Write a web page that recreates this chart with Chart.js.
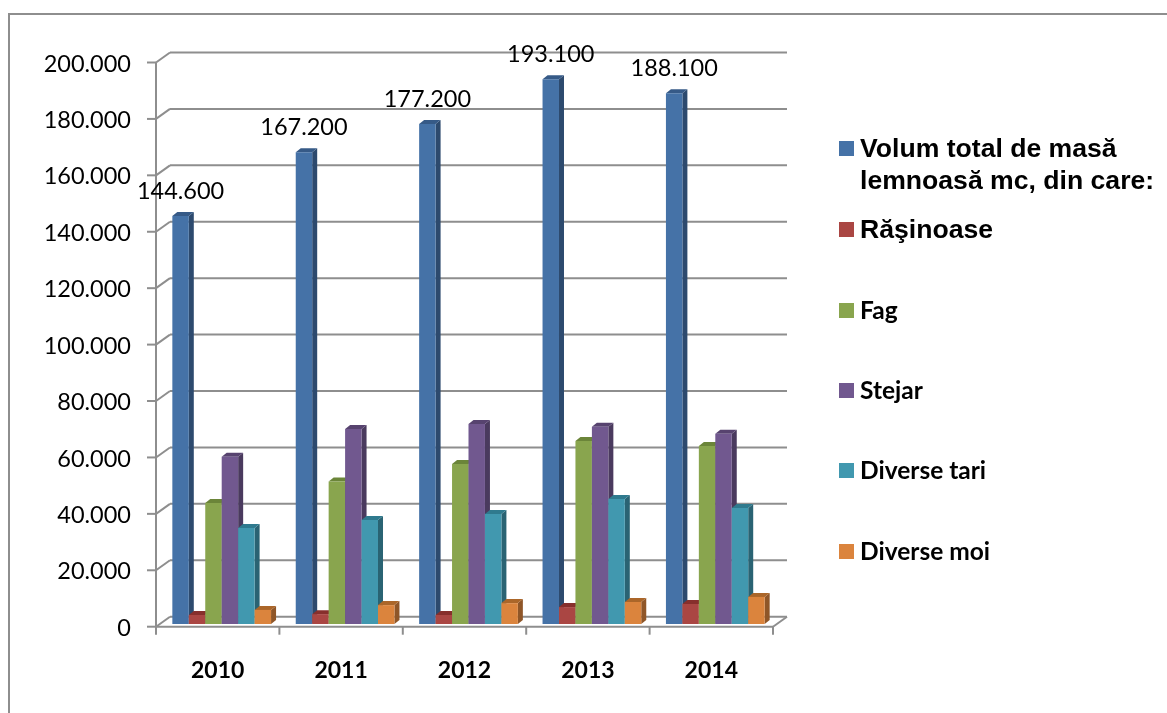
<!DOCTYPE html>
<html>
<head>
<meta charset="utf-8">
<title>Volum masă lemnoasă</title>
<script src="https://cdn.jsdelivr.net/npm/chart.js@4"></script>
<style>
  html, body { margin: 0; padding: 0; background: #fff; overflow: hidden; }
  #wrap { position: relative; width: 1167px; height: 713px; }
  #frame { position: absolute; left: 8px; top: 13px; right: 0; bottom: 0;
           border-left: 2px solid #8e8e8e; border-top: 2px solid #8e8e8e; }
  canvas { position: absolute; left: 0; top: 0; }
  .leg { position: absolute; left: 839px; color: #000; }
  .leg i { position: absolute; left: 0; top: 0; width: 15px; height: 15px; }
  .leg span { position: absolute; left: 21px; white-space: normal; width: 305px; }
  .arial { font: bold 26.6px/32px "Liberation Sans", sans-serif; }
  .lato { font: bold 24.5px/30px Lato, sans-serif; }
</style>
</head>
<body>
<div id="wrap">
  <div id="frame"></div>
  <canvas id="woodChart" width="1167" height="713"></canvas>
  <div id="legend"></div>
</div>
<script>
const years = ['2010', '2011', '2012', '2013', '2014'];
const seriesNames = ['Volum total de masă lemnoasă mc, din care:', 'Răşinoase', 'Fag', 'Stejar', 'Diverse tari', 'Diverse moi'];

const volumTotal = [144600, 167200, 177200, 193100, 188100];
const rasinoase = [3200, 3500, 3200, 6000, 7100];
const fag = [42900, 50500, 56700, 64900, 63100];
const stejar = [59300, 69100, 70900, 69900, 67400];
const diverseTari = [34000, 36900, 39000, 44300, 41100];
const diverseMoi = [5000, 6700, 7400, 7800, 9600];

const yTicks = [0, 20000, 40000, 60000, 80000, 100000, 120000, 140000, 160000, 180000, 200000];

const frontColors = ['#4572A7', '#AA4643', '#89A54E', '#71588F', '#4198AF', '#DB843D'];
const sideColors = ['#2d4a6e', '#6f2e2c', '#5a6c33', '#4a3a5e', '#2a6373', '#8f5628'];
const topColors = ['#365a87', '#872f2c', '#6b8539', '#57436f', '#2f7a8e', '#ab6629'];

// where the 3d look sits: bars stand a bit behind the front axes
const barShift = { x: 4, y: -2.7 };
const barDepth = { x: 5, y: -4 };
const wallDepth = { x: 14, y: -10 };
const axisColor = '#8e8e8e';

function dotted(v) {
  return String(v).replace(/\B(?=(\d{3})+$)/g, '.');
}

function line(ctx, x1, y1, x2, y2) {
  ctx.beginPath();
  ctx.moveTo(x1, y1);
  ctx.lineTo(x2, y2);
  ctx.stroke();
}

function poly(ctx, pts, color) {
  ctx.fillStyle = color;
  ctx.beginPath();
  pts.forEach((p, i) => i ? ctx.lineTo(p[0], p[1]) : ctx.moveTo(p[0], p[1]));
  ctx.closePath();
  ctx.fill();
}

// Back wall, floor and front axes, from the chart's own scales
const wallPlugin = {
  id: 'wall',
  beforeDatasetsDraw(chart) {
    const { ctx, scales, chartArea } = chart;
    const { left, right, bottom, top } = chartArea;
    const step = (right - left) / years.length;
    ctx.save();
    ctx.strokeStyle = axisColor;
    ctx.lineWidth = 2;
    yTicks.forEach(v => {
      const y = scales.y.getPixelForValue(v);
      line(ctx, left - 9, y, left, y);
      line(ctx, left, y, left + wallDepth.x, y + wallDepth.y);
      line(ctx, left + wallDepth.x, y + wallDepth.y, right + wallDepth.x, y + wallDepth.y);
    });
    line(ctx, right, bottom, right + wallDepth.x, bottom + wallDepth.y);
    line(ctx, left, top, left, bottom + 1);
    line(ctx, left, bottom, right, bottom);
    for (let i = 0; i <= years.length; i++) {
      const x = left + i * step;
      line(ctx, x, bottom, x, bottom + 8);
    }
    ctx.restore();
  },
  // the library paints the last series first, here the bars must go left to right
  beforeDatasetDraw() {
    return false;
  },
  afterDatasetsDraw(chart) {
    const { ctx } = chart;
    ctx.save();
    ctx.translate(barShift.x, barShift.y);
    seriesValues.forEach((values, i) => {
      chart.getDatasetMeta(i).data.forEach(bar => {
        const l = bar.x - bar.width / 2;
        const r = bar.x + bar.width / 2;
        const d = barDepth;
        poly(ctx, [[r, bar.y], [r + d.x, bar.y + d.y], [r + d.x, bar.base + d.y], [r, bar.base]], sideColors[i]);
        poly(ctx, [[l, bar.y], [l + d.x, bar.y + d.y], [r + d.x, bar.y + d.y], [r, bar.y]], topColors[i]);
        bar.draw(ctx);
      });
    });
    // value labels only on the total series
    ctx.fillStyle = '#000';
    ctx.font = '23.5px Lato, sans-serif';
    ctx.textAlign = 'center';
    ctx.textBaseline = 'middle';
    chart.getDatasetMeta(0).data.forEach((bar, i) => {
      ctx.fillText(dotted(volumTotal[i]), bar.x, bar.y - 25);
    });
    ctx.restore();
  }
};

const seriesValues = [volumTotal, rasinoase, fag, stejar, diverseTari, diverseMoi];

new Chart(document.getElementById('woodChart'), {
  type: 'bar',
  data: {
    labels: years,
    datasets: seriesValues.map((values, i) => ({
      label: seriesNames[i],
      data: values,
      backgroundColor: frontColors[i],
      borderWidth: 0,
      categoryPercentage: 0.8,
      barPercentage: 1,
      clip: false
    }))
  },
  options: {
    responsive: false,
    animation: false,
    devicePixelRatio: 1,
    layout: { padding: { left: 0, top: 62.5, right: 394, bottom: 0 } },
    plugins: { legend: { display: false }, tooltip: { enabled: false } },
    scales: {
      x: {
        grid: { display: false },
        border: { display: false },
        afterFit: s => { s.height = 86.3; },
        ticks: {
          padding: 22,
          color: '#000',
          maxRotation: 0,
          font: { family: 'Lato, sans-serif', size: 23, weight: 'bold' }
        }
      },
      y: {
        min: 0,
        max: 200000,
        afterFit: s => { s.width = 156; },
        afterBuildTicks: s => { s.ticks = yTicks.map(v => ({ value: v })); },
        grid: { display: false },
        border: { display: false },
        ticks: {
          padding: 17,
          labelOffset: 1.5,
          color: '#000',
          font: { family: 'Lato, sans-serif', size: 23.5 },
          callback: v => dotted(v)
        }
      }
    }
  },
  plugins: [wallPlugin]
});

// Legend as page text: rows are not evenly set up for the built-in one
const legendRows = [141, 222, 303, 383, 463, 544];
const legendBox = document.getElementById('legend');
seriesNames.forEach((name, i) => {
  const row = document.createElement('div');
  row.className = 'leg ' + (i < 2 ? 'arial' : 'lato');
  row.style.top = legendRows[i] + 'px';
  const box = document.createElement('i');
  box.style.background = frontColors[i];
  const text = document.createElement('span');
  text.textContent = name;
  text.style.top = (i < 2 ? -9 : -8) + 'px';
  row.appendChild(box);
  row.appendChild(text);
  legendBox.appendChild(row);
});
</script>
</body>
</html>
